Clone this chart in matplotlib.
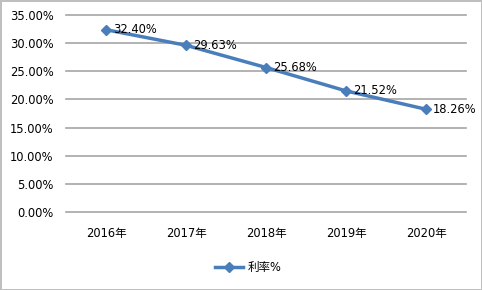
import matplotlib
matplotlib.use('Agg')
import matplotlib.pyplot as plt
from matplotlib.ticker import FuncFormatter

plt.rcParams['font.family'] = ['DejaVu Sans', 'Noto Sans CJK SC']

years = ['2016年', '2017年', '2018年', '2019年', '2020年']
rates = [32.40, 29.63, 25.68, 21.52, 18.26]
series_name = '利率%'

line_color = '#4a7ebb'
grid_color = '#a6a6a6'

fig = plt.figure(figsize=(4.82, 2.9), dpi=100, edgecolor='#bfbfbf', linewidth=2)
ax = fig.add_axes([0.137, 0.269, 0.83, 0.679])

x = list(range(len(years)))
ax.plot(x, rates, color=line_color, linewidth=2.5, marker='D', markersize=5.5,
        label=series_name)
for xi, v in zip(x, rates):
    ax.annotate('%.2f%%' % v, (xi, v), xytext=(5, 0), textcoords='offset points',
                fontsize=8.3, ha='left', va='center', color='black')

ax.set_xlim(-0.5, len(years) - 0.5)
ax.set_ylim(0, 35)
ax.set_yticks([0, 5, 10, 15, 20, 25, 30, 35])
ax.yaxis.set_major_formatter(FuncFormatter(lambda v, p: '%.2f%%' % v))
ax.set_xticks(x)
ax.set_xticklabels(years)
ax.tick_params(axis='both', length=0, labelsize=8.3, colors='black')
ax.tick_params(axis='x', pad=11)
ax.tick_params(axis='y', pad=9)
ax.grid(axis='y', color=grid_color, linewidth=1.2)
for gl in ax.get_ygridlines():
    gl.set_clip_on(False)
ax.set_axisbelow(True)
for s in ax.spines.values():
    s.set_visible(False)

fig.legend(loc='center', bbox_to_anchor=(0.515, 0.078), frameon=False,
           fontsize=8.3, handlelength=2.5, handletextpad=0.4)

fig.savefig('out.png', dpi=100, edgecolor=fig.get_edgecolor())
